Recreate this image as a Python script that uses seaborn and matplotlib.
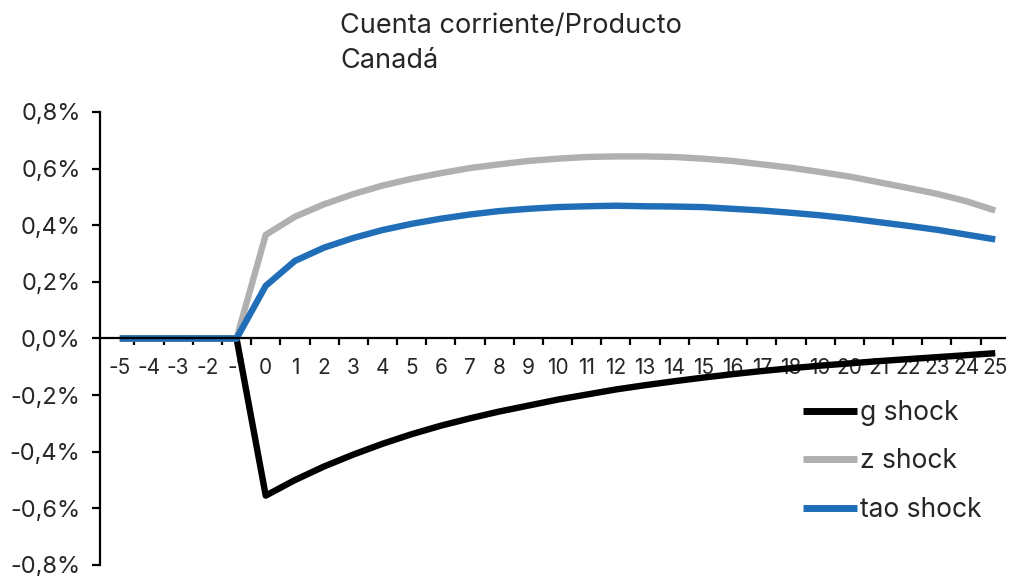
import numpy as np
import pandas as pd
import matplotlib
matplotlib.use("Agg")
import matplotlib.pyplot as plt
import matplotlib.ticker as mticker
import seaborn as sns

# Periods relative to the shock
periods = list(range(-5, 26))

# Current account / output response, in percent
g_shock = [0.0, 0.0, 0.0, 0.0, 0.0,
           -0.555, -0.500, -0.452, -0.410, -0.372, -0.338, -0.308, -0.282,
           -0.258, -0.237, -0.216, -0.198, -0.180, -0.165, -0.151, -0.138,
           -0.126, -0.115, -0.105, -0.096, -0.088, -0.080, -0.073, -0.066,
           -0.059, -0.052]
z_shock = [0.0, 0.0, 0.0, 0.0, 0.0,
           0.366, 0.430, 0.474, 0.510, 0.540, 0.564, 0.584, 0.602,
           0.615, 0.627, 0.635, 0.641, 0.643, 0.643, 0.641, 0.635,
           0.627, 0.615, 0.603, 0.588, 0.572, 0.552, 0.532, 0.511,
           0.485, 0.452]
tao_shock = [0.0, 0.0, 0.0, 0.0, 0.0,
             0.186, 0.274, 0.321, 0.355, 0.383, 0.405, 0.423, 0.438,
             0.450, 0.458, 0.464, 0.467, 0.469, 0.467, 0.466, 0.464,
             0.458, 0.452, 0.444, 0.435, 0.424, 0.411, 0.398, 0.384,
             0.367, 0.350]

series_names = ["g shock", "z shock", "tao shock"]
series_colors = ["#000000", "#B0B0B0", "#1F6EB7"]
y_ticks = [-0.8, -0.6, -0.4, -0.2, 0.0, 0.2, 0.4, 0.6, 0.8]

df = pd.concat([
    pd.DataFrame({"periodo": periods, "valor": vals, "serie": name})
    for name, vals in zip(series_names, [g_shock, z_shock, tao_shock])
], ignore_index=True)

sns.set_theme(style="white")
plt.rcParams["font.family"] = ["Inter", "DejaVu Sans"]

fig = plt.figure(figsize=(10.13, 5.76), dpi=100)
ax = fig.add_axes([0.0987, 0.0191, 0.893, 0.7865])

sns.lineplot(data=df, x="periodo", y="valor", hue="serie",
             hue_order=series_names,
             palette=dict(zip(series_names, series_colors)),
             linewidth=4.6, ax=ax, legend=True, sort=False,
             solid_joinstyle="round", solid_capstyle="butt")

ax.set_xlim(-5.68, 25.32)
ax.set_ylim(-0.8, 0.8)
ax.set_xlabel("")
ax.set_ylabel("")

# Spines: left axis plus a horizontal axis through zero
for side in ["top", "right"]:
    ax.spines[side].set_visible(False)
ax.spines["bottom"].set_position(("data", 0))
for side in ["left", "bottom"]:
    ax.spines[side].set_color("black")
    ax.spines[side].set_linewidth(1.6)

# Y axis ticks with comma decimals
ax.set_yticks(y_ticks)
ax.set_yticklabels([f"{v:.1f}%".replace(".", ",") for v in y_ticks])
ax.tick_params(axis="y", which="major", direction="out", length=6,
               width=1.6, color="black", labelsize=17, pad=8,
               left=True)

# X axis: labels at each period, tick marks between periods
ax.xaxis.set_major_locator(mticker.FixedLocator(periods))
ax.set_xticklabels([str(p) for p in periods])
ax.xaxis.set_minor_locator(mticker.FixedLocator([p + 0.5 for p in periods[:-1]]))
ax.tick_params(axis="x", which="major", length=0, labelsize=15, pad=14,
               bottom=True)
ax.tick_params(axis="x", which="minor", direction="out", length=5,
               width=1.6, color="black", bottom=True)
for lbl in ax.get_xticklabels():
    lbl.set_zorder(1)

handles, labels = ax.get_legend_handles_labels()
for h in handles:
    h.set_linewidth(5)
ax.legend(handles, labels, loc="upper left",
          bbox_to_anchor=(803 / 1013, 1 - 400 / 576),
          bbox_transform=fig.transFigure,
          frameon=False, fontsize=19, handlelength=2.05,
          handletextpad=0.12, labelspacing=0.85, borderpad=0,
          borderaxespad=0)

fig.text(340 / 1013, 1 - 26 / 576, "Cuenta corriente/Producto",
         fontsize=19.5, ha="left", va="center")
fig.text(340 / 1013, 1 - 61 / 576, "Canadá",
         fontsize=19.5, ha="left", va="center")

fig.savefig("out.png", dpi=100)
